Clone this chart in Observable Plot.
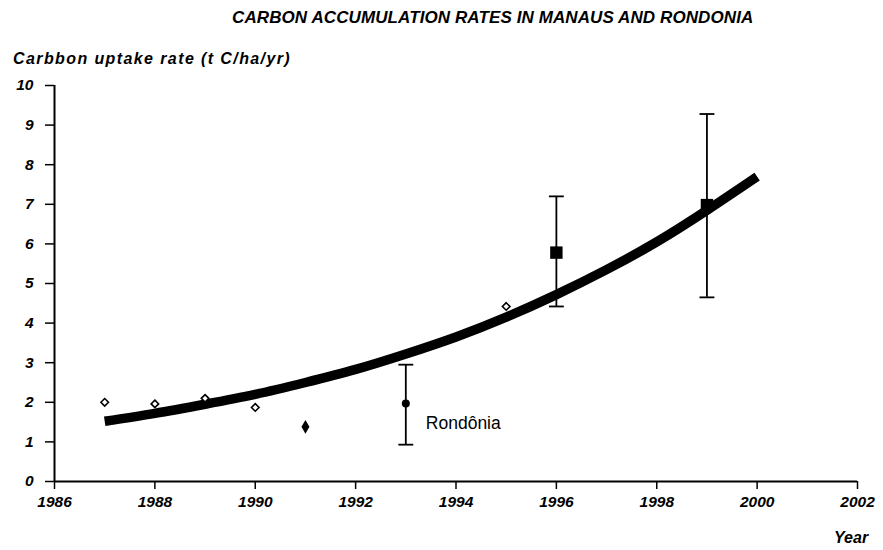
<!DOCTYPE html>
<html><head><meta charset="utf-8">
<script src="https://cdn.jsdelivr.net/npm/d3@7"></script>
<script src="https://cdn.jsdelivr.net/npm/@observablehq/plot@0.6"></script>
<style>
body{margin:0;background:#fff;font-family:"Liberation Sans",Arial,sans-serif;}
#wrap{position:relative;width:883px;height:550px;}
.lbl{position:absolute;font-style:italic;font-weight:bold;color:#000;white-space:nowrap;line-height:1;}
</style></head>
<body><div id="wrap"></div>
<script>
const title = "CARBON ACCUMULATION RATES IN MANAUS AND RONDONIA";
const yLabel = "Carbbon uptake rate (t C/ha/yr)";
const xLabel = "Year";
const xTicks = [1986,1988,1990,1992,1994,1996,1998,2000,2002];
const yTicks = [0,1,2,3,4,5,6,7,8,9,10];

// Manaus open diamonds
const openYears = [1987,1988,1989,1990,1995];
const openVals  = [2.0,1.96,2.1,1.87,4.42];
// filled diamond
const fdYears = [1991];
const fdVals = [1.38];
// Rondônia (filled circle with error bar)
const rondYears = [1993];
const rondVals = [1.97];
const rondLow = [0.93];
const rondHigh = [2.95];
// filled squares with error bars
const sqYears = [1996,1999];
const sqVals = [5.78,6.98];
const sqLow = [4.42,4.65];
const sqHigh = [7.2,9.28];
// fitted curve
const curveYears = [1987,1988,1989,1990,1991,1992,1993,1994,1995,1996,1997,1998,1999,2000];
const curveVals  = [1.52,1.72,1.95,2.2,2.5,2.83,3.22,3.65,4.15,4.72,5.35,6.05,6.85,7.7];

const pts = (xs, ys) => xs.map((x,i)=>({x, y: ys[i]}));
const bars = (xs, lo, hi) => xs.map((x,i)=>({x, lo: lo[i], hi: hi[i]}));
const capSym = {draw(ctx, size){ const w = Math.sqrt(size); ctx.moveTo(-w,0); ctx.lineTo(w,0); }};

const errs = [...bars(rondYears, rondLow, rondHigh), ...bars(sqYears, sqLow, sqHigh)];
const caps = errs.flatMap(d => [{x:d.x, y:d.lo}, {x:d.x, y:d.hi}]);

const font = {fontStyle:"italic", fontWeight:"bold", fontSize:15.5};

const chart = Plot.plot({
  width: 883, height: 550,
  marginLeft: 54, marginRight: 26, marginTop: 85, marginBottom: 69,
  x: {domain:[1986,2002]},
  y: {domain:[0,10]},
  style: {fontFamily:"Liberation Sans, Arial, sans-serif", color:"#000", background:"#fff"},
  marks: [
    Plot.axisX({ticks: xTicks, tickFormat: d=>String(d), tickSize: 8, tickPadding: 6, label: null, ...font, strokeWidth:1.5}),
    Plot.axisY({ticks: yTicks, tickSize: 9, tickPadding: 12, label: null, ...font, strokeWidth:1.5}),
    Plot.ruleX([1986], {strokeWidth: 2}),
    Plot.ruleY([0], {strokeWidth: 2}),
    Plot.line(pts(curveYears, curveVals), {x:"x", y:"y", curve:"natural", strokeWidth: 9.5, stroke:"#000", strokeLinecap:"butt"}),
    Plot.ruleX(errs, {x:"x", y1:"lo", y2:"hi", strokeWidth: 1.8}),
    Plot.dot(caps, {x:"x", y:"y", symbol: capSym, r: 4.2, stroke:"#000", strokeWidth: 1.8, fill:"none"}),
    Plot.dot(pts(openYears, openVals), {x:"x", y:"y", symbol:"diamond2", r: 3.4, stroke:"#000", strokeWidth: 1.6, fill:"#fff"}),
    Plot.dot(pts(fdYears, fdVals), {x:"x", y:"y", symbol:"diamond", r: 4.2, fill:"#000"}),
    Plot.dot(pts(rondYears, rondVals), {x:"x", y:"y", r: 4, fill:"#000"}),
    Plot.dot(pts(sqYears, sqVals), {x:"x", y:"y", symbol:"square", r: 7, fill:"#000"}),
    Plot.text(pts(rondYears, rondVals), {x:"x", y:"y", text: ()=>"Rondônia", dx: 20, dy: 20, textAnchor:"start", fontSize: 17.5, fill:"#000"})
  ]
});
const wrap = document.getElementById("wrap");
wrap.appendChild(chart);

function addLabel(text, css){
  const d = document.createElement("div");
  d.className = "lbl"; d.textContent = text;
  Object.assign(d.style, css);
  wrap.appendChild(d);
}
addLabel(title, {left:"232px", top:"9px", fontSize:"17px", letterSpacing:"0.1px"});
addLabel(yLabel, {left:"13px", top:"51px", fontSize:"16px", letterSpacing:"1.4px"});
addLabel(xLabel, {left:"834px", top:"530px", fontSize:"16px"});
</script></body></html>
